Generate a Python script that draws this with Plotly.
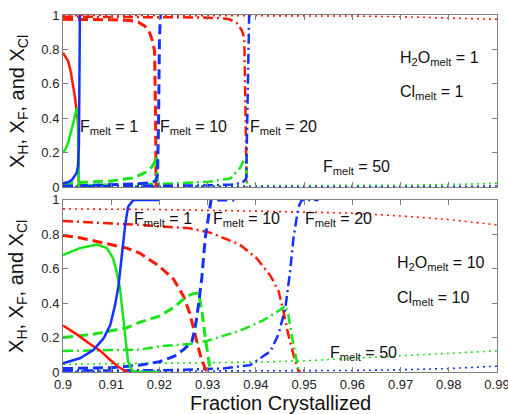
import plotly.graph_objects as go

# ---------------- axis ticks ----------------
x_ticks = [0.90, 0.91, 0.92, 0.93, 0.94, 0.95, 0.96, 0.97, 0.98, 0.99]
x_tick_labels = ["0.9", "0.91", "0.92", "0.93", "0.94", "0.95", "0.96", "0.97", "0.98", "0.99"]
y_ticks = [0, 0.2, 0.4, 0.6, 0.8, 1.0]
y_tick_labels = ["0", "0.2", "0.4", "0.6", "0.8", "1"]

# ---------------- top panel: H2O_melt = 1, Cl_melt = 1 ----------------
top_f1_red_x = [0.9000, 0.9005, 0.9011, 0.9016, 0.9021, 0.9025, 0.9028, 0.9031, 0.9032, 0.9033]
top_f1_red_y = [0.78, 0.76, 0.73, 0.67, 0.59, 0.52, 0.44, 0.38, 0.20, 0.0]
top_f1_green_x = [0.9000, 0.9005, 0.9011, 0.9016, 0.9021, 0.9025, 0.9028, 0.9031, 0.9032, 0.9033]
top_f1_green_y = [0.20, 0.22, 0.26, 0.31, 0.37, 0.42, 0.45, 0.46, 0.30, 0.0]
top_f1_blue_x = [0.9000, 0.9010, 0.9018, 0.9024, 0.9028, 0.9031, 0.9033, 0.9034, 0.9035]
top_f1_blue_y = [0.02, 0.028, 0.04, 0.06, 0.08, 0.12, 0.25, 0.60, 1.0]

top_f10_red_x = [0.900, 0.905, 0.910, 0.9140, 0.9156, 0.9170, 0.9180, 0.9186, 0.9190, 0.9192, 0.9193]
top_f10_red_y = [0.975, 0.975, 0.972, 0.968, 0.958, 0.935, 0.895, 0.845, 0.79, 0.40, 0.0]
top_f10_green_x = [0.900, 0.905, 0.910, 0.9146, 0.9174, 0.9185, 0.9191, 0.9194, 0.9196]
top_f10_green_y = [0.023, 0.028, 0.036, 0.053, 0.09, 0.12, 0.15, 0.18, 0.0]
top_f10_blue_x = [0.900, 0.905, 0.910, 0.915, 0.918, 0.9192, 0.9196, 0.9198, 0.9200, 0.9202]
top_f10_blue_y = [0.005, 0.008, 0.012, 0.018, 0.025, 0.035, 0.07, 0.35, 0.85, 1.0]

top_f20_red_x = [0.900, 0.910, 0.920, 0.928, 0.9325, 0.9345, 0.9360, 0.9371, 0.9376, 0.9379, 0.9381]
top_f20_red_y = [0.99, 0.99, 0.988, 0.986, 0.982, 0.975, 0.955, 0.91, 0.865, 0.45, 0.0]
top_f20_green_x = [0.900, 0.910, 0.920, 0.930, 0.9347, 0.9367, 0.9376, 0.9380, 0.9382]
top_f20_green_y = [0.010, 0.013, 0.018, 0.030, 0.05, 0.11, 0.16, 0.14, 0.0]
top_f20_blue_x = [0.900, 0.910, 0.920, 0.930, 0.935, 0.9372, 0.9380, 0.9382, 0.9384, 0.9386]
top_f20_blue_y = [0.003, 0.004, 0.006, 0.010, 0.015, 0.025, 0.05, 0.40, 0.90, 1.0]

top_f50_x = [0.90, 0.92, 0.94, 0.96, 0.97, 0.98, 0.99]
top_f50_red_y = [0.998, 0.998, 0.997, 0.994, 0.99, 0.984, 0.975]
top_f50_green_y = [0.004, 0.005, 0.006, 0.008, 0.011, 0.015, 0.022]
top_f50_blue_y = [0.001, 0.001, 0.002, 0.002, 0.003, 0.004, 0.006]

# ---------------- bottom panel: H2O_melt = 10, Cl_melt = 10 ----------------
bot_f1_red_x = [0.9000, 0.9028, 0.9056, 0.9077, 0.9098, 0.9115, 0.9129, 0.9135]
bot_f1_red_y = [0.27, 0.22, 0.163, 0.124, 0.07, 0.03, 0.005, 0.0]
bot_f1_green_x = [0.9000, 0.9035, 0.9070, 0.9091, 0.9104, 0.9111, 0.9118, 0.9125, 0.9130, 0.9135, 0.9143, 0.9150, 0.9200]
bot_f1_green_y = [0.68, 0.72, 0.74, 0.72, 0.66, 0.585, 0.49, 0.31, 0.175, 0.06, 0.01, 0.0, 0.0]
bot_f1_blue_x = [0.9000, 0.9035, 0.9063, 0.9084, 0.9098, 0.9108, 0.9115, 0.9122, 0.9129, 0.9135, 0.9146, 0.9200]
bot_f1_blue_y = [0.05, 0.08, 0.128, 0.195, 0.273, 0.39, 0.50, 0.68, 0.855, 0.96, 1.0, 1.0]

bot_f10_red_x = [0.900, 0.9035, 0.9084, 0.9132, 0.916, 0.918, 0.920, 0.9229, 0.925, 0.9263, 0.9274, 0.9284, 0.9295, 0.9300]
bot_f10_red_y = [0.794, 0.78, 0.75, 0.72, 0.69, 0.65, 0.614, 0.54, 0.44, 0.34, 0.22, 0.105, 0.017, 0.0]
bot_f10_green_x = [0.900, 0.9063, 0.9132, 0.916, 0.920, 0.9229, 0.9257, 0.9270, 0.9281, 0.9288, 0.9295, 0.9302, 0.9306]
bot_f10_green_y = [0.20, 0.22, 0.257, 0.29, 0.325, 0.374, 0.44, 0.455, 0.46, 0.355, 0.20, 0.065, 0.0]
bot_f10_blue_x = [0.900, 0.910, 0.916, 0.920, 0.923, 0.925, 0.9267, 0.9274, 0.9281, 0.9288, 0.9295, 0.9302, 0.9307, 0.9355]
bot_f10_blue_y = [0.02, 0.025, 0.04, 0.06, 0.09, 0.13, 0.175, 0.255, 0.39, 0.55, 0.78, 0.91, 1.0, 1.0]

bot_f20_red_x = [0.900, 0.9063, 0.916, 0.9201, 0.9263, 0.9305, 0.9367, 0.9402, 0.9430, 0.9447, 0.9457, 0.9467, 0.9478, 0.9488, 0.9492]
bot_f20_red_y = [0.878, 0.87, 0.855, 0.846, 0.835, 0.81, 0.74, 0.66, 0.56, 0.47, 0.355, 0.22, 0.10, 0.01, 0.0]
bot_f20_green_x = [0.900, 0.916, 0.9201, 0.9263, 0.9298, 0.9367, 0.9415, 0.9447, 0.9461, 0.9467, 0.9474, 0.9481, 0.9488, 0.9492]
bot_f20_green_y = [0.122, 0.13, 0.15, 0.163, 0.18, 0.24, 0.30, 0.355, 0.385, 0.335, 0.22, 0.105, 0.015, 0.0]
bot_f20_blue_x = [0.900, 0.920, 0.9333, 0.9388, 0.9430, 0.9447, 0.9461, 0.9471, 0.9478, 0.9488, 0.9495, 0.9530]
bot_f20_blue_y = [0.008, 0.01, 0.02, 0.04, 0.12, 0.22, 0.37, 0.585, 0.78, 0.955, 1.0, 1.0]

bot_f50_x = [0.90, 0.92, 0.94, 0.95, 0.96, 0.97, 0.98, 0.99]
bot_f50_red_y = [0.948, 0.944, 0.935, 0.93, 0.923, 0.907, 0.886, 0.855]
bot_f50_green_y = [0.045, 0.05, 0.057, 0.065, 0.08, 0.092, 0.106, 0.123]
bot_f50_blue_y = [0.003, 0.004, 0.005, 0.006, 0.009, 0.013, 0.02, 0.034]

# ---------------- styles ----------------
RED = "rgb(255,25,0)"
GREEN = "rgb(25,228,25)"
BLUE = "rgb(20,50,255)"
STYLE = {
    1: dict(dash="solid", width=2.5),
    10: dict(dash="10px,5px", width=3),
    20: dict(dash="10px,4px,2px,4px", width=2.5),
    50: dict(dash="2px,4px", width=1.6),
}

fig = go.Figure()


def add(x, y, color, f, xa, ya):
    st = STYLE[f]
    fig.add_trace(go.Scatter(x=x, y=y, mode="lines", xaxis=xa, yaxis=ya,
                             line=dict(color=color, width=st["width"], dash=st["dash"]),
                             hoverinfo="skip", showlegend=False))


# top panel (x2, y2)
add(top_f50_x, top_f50_red_y, RED, 50, "x2", "y2")
add(top_f50_x, top_f50_green_y, GREEN, 50, "x2", "y2")
add(top_f50_x, top_f50_blue_y, BLUE, 50, "x2", "y2")
add(top_f20_red_x, top_f20_red_y, RED, 20, "x2", "y2")
add(top_f20_green_x, top_f20_green_y, GREEN, 20, "x2", "y2")
add(top_f20_blue_x, top_f20_blue_y, BLUE, 20, "x2", "y2")
add(top_f10_red_x, top_f10_red_y, RED, 10, "x2", "y2")
add(top_f10_green_x, top_f10_green_y, GREEN, 10, "x2", "y2")
add(top_f10_blue_x, top_f10_blue_y, BLUE, 10, "x2", "y2")
add(top_f1_red_x, top_f1_red_y, RED, 1, "x2", "y2")
add(top_f1_green_x, top_f1_green_y, GREEN, 1, "x2", "y2")
add(top_f1_blue_x, top_f1_blue_y, BLUE, 1, "x2", "y2")

# bottom panel (x, y)
add(bot_f50_x, bot_f50_red_y, RED, 50, "x", "y")
add(bot_f50_x, bot_f50_green_y, GREEN, 50, "x", "y")
add(bot_f50_x, bot_f50_blue_y, BLUE, 50, "x", "y")
add(bot_f20_red_x, bot_f20_red_y, RED, 20, "x", "y")
add(bot_f20_green_x, bot_f20_green_y, GREEN, 20, "x", "y")
add(bot_f20_blue_x, bot_f20_blue_y, BLUE, 20, "x", "y")
add(bot_f10_red_x, bot_f10_red_y, RED, 10, "x", "y")
add(bot_f10_green_x, bot_f10_green_y, GREEN, 10, "x", "y")
add(bot_f10_blue_x, bot_f10_blue_y, BLUE, 10, "x", "y")
add(bot_f1_red_x, bot_f1_red_y, RED, 1, "x", "y")
add(bot_f1_green_x, bot_f1_green_y, GREEN, 1, "x", "y")
add(bot_f1_blue_x, bot_f1_blue_y, BLUE, 1, "x", "y")

AX = "#808080"
FONT = "Liberation Sans, Arial, sans-serif"
common_x = dict(range=[0.9, 0.99], tickvals=x_ticks, ticktext=x_tick_labels, ticks="inside",
                ticklen=5, tickcolor=AX, showline=True, linecolor=AX, linewidth=1,
                mirror="ticks", showgrid=False, zeroline=False,
                ticklabeloverflow="allow", automargin=False)
common_y = dict(range=[0, 1], tickvals=y_ticks, ticktext=y_tick_labels, ticks="inside",
                ticklen=5, tickcolor=AX, showline=True, linecolor=AX, linewidth=1,
                mirror="ticks", showgrid=False, zeroline=False, automargin=False)

fig.update_layout(
    width=508, height=414,
    margin=dict(l=63, r=11, t=15, b=42, autoexpand=False),
    plot_bgcolor="white", paper_bgcolor="white",
    showlegend=False,
    font=dict(family=FONT, size=13, color="#222"),
    xaxis=dict(domain=[0, 1], anchor="y", **common_x),
    yaxis=dict(domain=[0, 0.482], anchor="x", **common_y),
    xaxis2=dict(domain=[0, 1], anchor="y2", matches="x", showticklabels=False, **common_x),
    yaxis2=dict(domain=[0.518, 1], anchor="x2", **common_y),
)

ann_font = dict(family=FONT, size=16, color="#111")
ylab = "X<sub>H</sub>, X<sub>F</sub>, and X<sub>Cl</sub>"
anns = [
    # top panel labels
    dict(x=0.90311, y=0.349, xref="x2", yref="y2", text="F<sub>melt</sub> = 1"),
    dict(x=0.9197, y=0.349, xref="x2", yref="y2", text="F<sub>melt</sub> = 10"),
    dict(x=0.93837, y=0.349, xref="x2", yref="y2", text="F<sub>melt</sub> = 20"),
    dict(x=0.95344, y=0.113, xref="x2", yref="y2", text="F<sub>melt</sub> = 50"),
    dict(x=0.96947, y=0.747, xref="x2", yref="y2", text="H<sub>2</sub>O<sub>melt</sub> = 1"),
    dict(x=0.96947, y=0.547, xref="x2", yref="y2", text="Cl<sub>melt</sub> = 1"),
    # bottom panel labels
    dict(x=0.91431, y=0.884, xref="x", yref="y", text="F<sub>melt</sub> = 1"),
    dict(x=0.93069, y=0.884, xref="x", yref="y", text="F<sub>melt</sub> = 10"),
    dict(x=0.94967, y=0.884, xref="x", yref="y", text="F<sub>melt</sub> = 20"),
    dict(x=0.95502, y=0.11, xref="x", yref="y", text="F<sub>melt</sub> = 50"),
    dict(x=0.96885, y=0.628, xref="x", yref="y", text="H<sub>2</sub>O<sub>melt</sub> = 10"),
    dict(x=0.96885, y=0.43, xref="x", yref="y", text="Cl<sub>melt</sub> = 10"),
]
for a in anns:
    fig.add_annotation(showarrow=False, xanchor="left", yanchor="middle", font=ann_font, **a)

title_font = dict(family=FONT, size=20, color="#111")
fig.add_annotation(text=ylab, textangle=-90, x=-0.1037, y=0.759, xref="paper", yref="paper",
                   xanchor="center", yanchor="middle", showarrow=False, font=title_font)
fig.add_annotation(text=ylab, textangle=-90, x=-0.1037, y=0.241, xref="paper", yref="paper",
                   xanchor="center", yanchor="middle", showarrow=False, font=title_font)
fig.add_annotation(text="Fraction Crystallized", x=0.5, y=-0.0868, xref="paper", yref="paper",
                   xanchor="center", yanchor="middle", showarrow=False, font=title_font)

fig.write_html("out.html", config={"displayModeBar": False},
               post_script="document.body.style.margin='0';document.body.style.overflow='hidden';")
